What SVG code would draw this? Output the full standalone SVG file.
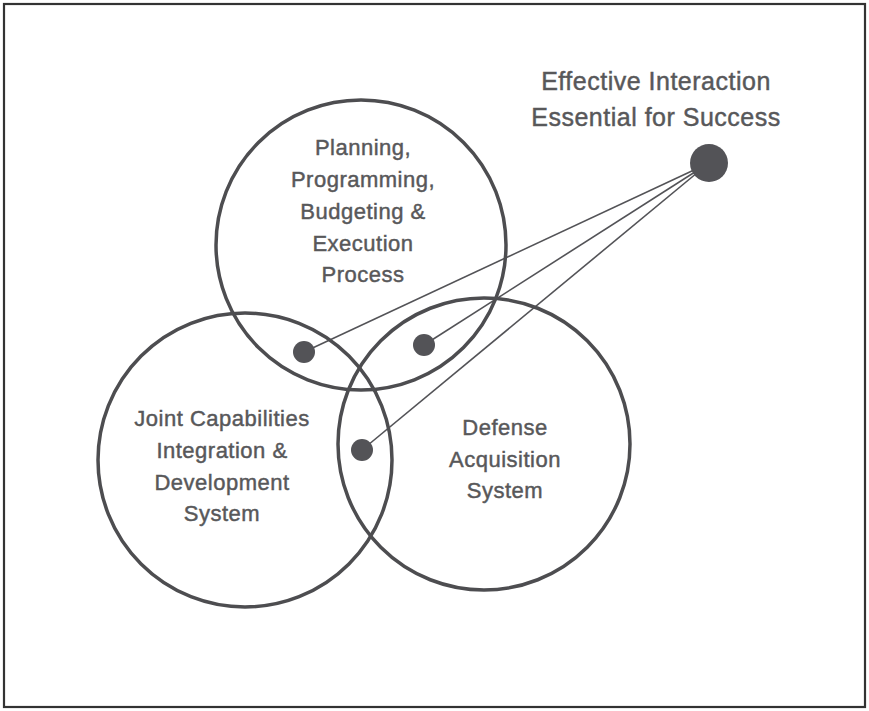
<svg xmlns="http://www.w3.org/2000/svg" width="869" height="711" viewBox="0 0 869 711">
<style>
.ring{fill:none;stroke:#4d4d50;stroke-width:3.5}
.dot{fill:#535357}
.lbl{font-family:"Liberation Sans",Arial,sans-serif;font-size:22px;fill:#58585a;stroke:#58585a;stroke-width:0.45;letter-spacing:0.5px;text-anchor:middle}
.ttl{font-family:"Liberation Sans",Arial,sans-serif;font-size:25px;fill:#58585a;stroke:#58585a;stroke-width:0.45;letter-spacing:0.5px;text-anchor:middle}
.conn{stroke:#535357;stroke-width:1.6;fill:none}
</style>
<rect x="0" y="0" width="869" height="711" fill="#ffffff"/>
<rect x="4" y="4" width="861" height="703" fill="none" stroke="#333333" stroke-width="2.2"/>
<g id="connectors">
<line class="conn" x1="709" y1="163" x2="304" y2="352"/>
<line class="conn" x1="709" y1="163" x2="424" y2="345"/>
<line class="conn" x1="709" y1="163" x2="362" y2="450"/>
</g>
<g id="ppbe">
<circle class="ring" cx="361" cy="245" r="145"/>
<text class="lbl" x="363" y="155">Planning,</text>
<text class="lbl" x="363" y="187">Programming,</text>
<text class="lbl" x="363" y="219">Budgeting &amp;</text>
<text class="lbl" x="363" y="251">Execution</text>
<text class="lbl" x="363" y="282">Process</text>
</g>
<g id="jcids">
<circle class="ring" cx="245" cy="460" r="147"/>
<text class="lbl" x="222" y="426">Joint Capabilities</text>
<text class="lbl" x="222" y="458">Integration &amp;</text>
<text class="lbl" x="222" y="490">Development</text>
<text class="lbl" x="222" y="521">System</text>
</g>
<g id="das">
<circle class="ring" cx="484" cy="444" r="146"/>
<text class="lbl" x="505" y="435">Defense</text>
<text class="lbl" x="505" y="467">Acquisition</text>
<text class="lbl" x="505" y="498">System</text>
</g>
<g id="interaction">
<circle class="dot" cx="709" cy="163" r="19"/>
<text class="ttl" x="656" y="90">Effective Interaction</text>
<text class="ttl" x="656" y="126">Essential for Success</text>
</g>
<g id="dot-ppbe-jcids"><circle class="dot" cx="304" cy="352" r="11"/></g>
<g id="dot-ppbe-das"><circle class="dot" cx="424" cy="345" r="11"/></g>
<g id="dot-jcids-das"><circle class="dot" cx="362" cy="450" r="11"/></g>
</svg>
